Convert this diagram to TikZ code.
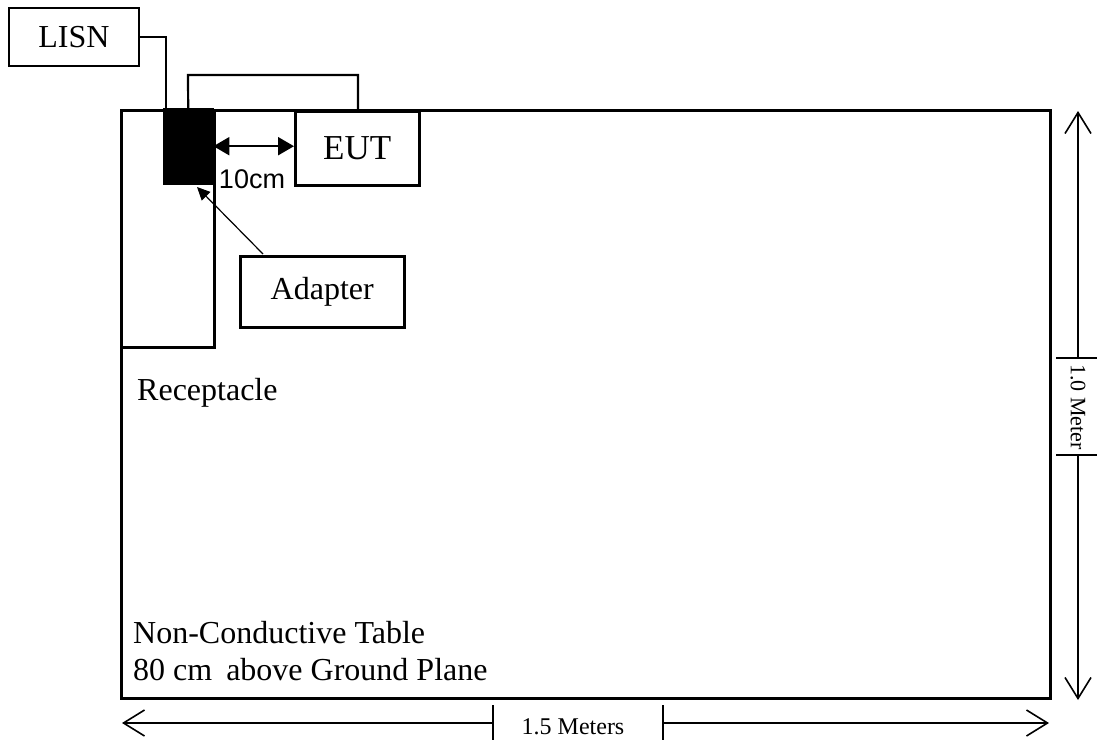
\documentclass[tikz,border=0pt]{standalone}
\usepackage{fontspec}
\setmainfont{Liberation Serif}
\newfontfamily\arialf{Liberation Sans}
\usetikzlibrary{arrows.meta}
\begin{document}
\begin{tikzpicture}[x=1pt,y=-1pt,
  box/.style={draw, line width=2.5pt, inner sep=0pt},
  wire/.style={line width=2.2pt},
  dim/.style={line width=1.6pt},
  lbl/.style={font=\fontsize{32}{37}\selectfont},
  txt/.style={inner sep=0pt, font=\fontsize{32}{37}\selectfont},
  barb/.style={-{Straight Barb[length=21pt,width=26pt,line width=1.6pt]}},
  dbl/.style={{Triangle[length=16pt,width=18pt]}-{Triangle[length=16pt,width=18pt]}}]
\fill[white] (0,0) rectangle (1097,744);
\path[use as bounding box] (0,0) rectangle (1097,744);
% boxes
\node[box, minimum width=130pt, minimum height=58pt, lbl] (lisn) at (74,37) {LISN};
\node[box, anchor=north west, minimum width=929pt, minimum height=588pt] (table) at (120,109) {};
\node[box, anchor=north west, minimum width=93pt, minimum height=237pt] (recept) at (120,109) {};
\node[draw, fill=black, anchor=north west, minimum width=50pt, minimum height=76pt, inner sep=0pt] (block) at (163,108) {};
\node[box, fill=white, anchor=north west, minimum width=124pt, minimum height=74pt, font=\fontsize{35}{40}\selectfont] (eut) at (294,110) {EUT};
\node[box, anchor=north west, minimum width=164pt, minimum height=71pt, lbl] (adapter) at (239,255) {Adapter};
% texts
\node[txt, anchor=base west] (receptlbl) at (137,400) {Receptacle};
\node[txt, anchor=base west] (tbl1) at (133,643) {Non-Conductive Table};
\node[txt, anchor=base west] (tbl2) at (133,680) {80 cm\hspace{6pt} above Ground Plane};
\node[inner sep=0pt, font=\arialf\fontsize{27}{30}\selectfont] (tencm) at (252,179) {10cm};
% wires
\coordinate (lisnIn) at (166,108);
\draw[wire] (lisn.east) -| (lisnIn);
\coordinate (loopTop) at (188,75);
\coordinate (loopEnd) at (358,109);
\draw[wire] (block.north) -- (loopTop) -| (loopEnd);
\draw[wire, dbl] (block.east) -- (eut.west |- block.east);
\coordinate (adFrom) at (263,254);
\coordinate (adTip) at (197,187);
\draw[line width=1.2pt, -{Triangle[length=13pt,width=12pt]}] (adFrom) -- (adTip);
% vertical dimension
\coordinate (vTop) at (1078,111);
\coordinate (vT1) at (1078,358);
\coordinate (vT2) at (1078,455);
\coordinate (vBot) at (1078,700);
\draw[dim, barb] (vT1) -- (vTop);
\draw[dim, barb] (vT2) -- (vBot);
\draw[dim] (1056,358) -- (1100,358);
\draw[dim] (1056,455) -- (1100,455);
\node[rotate=-90, inner sep=0pt, font=\fontsize{22}{26}\selectfont] (mv) at (1078,407) {1.0 Meter};
% horizontal dimension
\coordinate (hL) at (122,723);
\coordinate (hT1) at (493,723);
\coordinate (hT2) at (663,723);
\coordinate (hR) at (1049,723);
\draw[dim, barb] (hT1) -- (hL);
\draw[dim, barb] (hT2) -- (hR);
\draw[dim] (493,705) -- (493,740);
\draw[dim] (663,705) -- (663,740);
\node[inner sep=0pt, font=\fontsize{24}{28}\selectfont] (mh) at (573,727) {1.5 Meters};
\end{tikzpicture}
\end{document}
